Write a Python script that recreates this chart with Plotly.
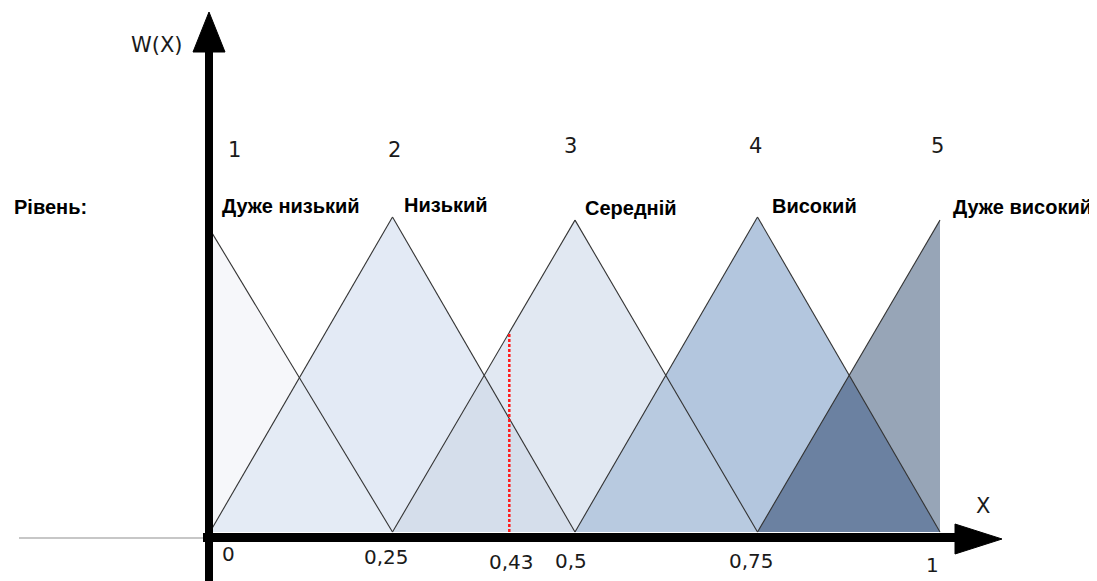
import plotly.graph_objects as go

# ---------------- data ----------------
term_names = ["Дуже низький", "Низький", "Середній", "Високий", "Дуже високий"]
term_numbers = ["1", "2", "3", "4", "5"]
tri_left = [0.0, 0.0, 0.25, 0.5, 0.75]
tri_center = [0.0, 0.25, 0.5, 0.75, 1.0]
tri_right = [0.25, 0.5, 0.75, 1.0, 1.0]
tri_peak = [0.96, 1.0, 0.99, 1.0, 0.99]
tri_colors = ["#f6f7fa", "#e3eaf5", "#e1e8f2", "#b3c6de", "#97a5b7"]
overlap_colors = ["#e4ebf5", "#d5deeb", "#b8cae0", "#6b81a1"]

tick_values = [0.0, 0.25, 0.41, 0.5, 0.75, 1.0]
tick_labels = ["0", "0,25", "0,43", "0,5", "0,75", "1"]
marker_x = 0.41          # red dotted line (labelled 0,43)
marker_term = 2          # index of the term it rises to (Середній)

# ---------------- geometry helpers ----------------
W, H = 1097, 581
PAGE_MARGIN = 8          # default body margin of the html page
X0_PX, X_SCALE = 210, 730
Y0_PX, Y_SCALE = 532, 315


def dx(px):
    return (px - X0_PX) / X_SCALE


def dy(py):
    return (Y0_PX - py) / Y_SCALE


def tent(i, x):
    l, c, r, p = tri_left[i], tri_center[i], tri_right[i], tri_peak[i]
    if x < l or x > r:
        return 0.0
    if x <= c:
        return p if c == l else p * (x - l) / (c - l)
    return p if r == c else p * (r - x) / (r - c)


fig = go.Figure()

# triangle fills
for i in range(5):
    fig.add_trace(go.Scatter(
        x=[tri_left[i], tri_center[i], tri_right[i], tri_left[i]],
        y=[0, tri_peak[i], 0, 0],
        mode="lines", fill="toself", fillcolor=tri_colors[i],
        line=dict(width=0), hoverinfo="skip", showlegend=False))

# overlaps of neighbouring terms
for i in range(4):
    c1, r1, p1 = tri_center[i], tri_right[i], tri_peak[i]
    l2, c2, p2 = tri_left[i + 1], tri_center[i + 1], tri_peak[i + 1]
    m1 = -p1 / (r1 - c1)
    m2 = p2 / (c2 - l2)
    xi = (m2 * l2 - m1 * r1) / (m2 - m1)
    yi = m2 * (xi - l2)
    fig.add_trace(go.Scatter(
        x=[l2, xi, r1, l2], y=[0, yi, 0, 0],
        mode="lines", fill="toself", fillcolor=overlap_colors[i],
        line=dict(width=0), hoverinfo="skip", showlegend=False))

# triangle outlines (slanted edges only)
for i in range(5):
    l, c, r, p = tri_left[i], tri_center[i], tri_right[i], tri_peak[i]
    if c > l:
        fig.add_trace(go.Scatter(x=[l, c], y=[0, p], mode="lines",
                                 line=dict(color="#333333", width=1.1),
                                 hoverinfo="skip", showlegend=False))
    if r > c:
        fig.add_trace(go.Scatter(x=[c, r], y=[p, 0], mode="lines",
                                 line=dict(color="#333333", width=1.1),
                                 hoverinfo="skip", showlegend=False))

# red dotted marker line
fig.add_trace(go.Scatter(
    x=[marker_x, marker_x], y=[0, tent(marker_term, marker_x)],
    mode="lines", line=dict(color="#ff1a1a", width=2.5, dash="3px,2px"),
    hoverinfo="skip", showlegend=False))

# ---------------- axes drawn as arrows ----------------
shapes = []
shapes.append(dict(type="line", xref="x", yref="y", x0=dx(19), x1=dx(203),
                   y0=dy(538), y1=dy(538), line=dict(color="#b5b5b5", width=1.5)))
shapes.append(dict(type="line", xref="x", yref="y", x0=dx(209), x1=dx(209),
                   y0=dy(590), y1=dy(48), line=dict(color="black", width=8)))
shapes.append(dict(type="path", xref="x", yref="y",
                   path=f"M {dx(193)},{dy(52)} L {dx(209)},{dy(12)} L {dx(225)},{dy(52)} Z",
                   fillcolor="black", line=dict(color="black", width=1)))
shapes.append(dict(type="line", xref="x", yref="y", x0=dx(203), x1=dx(960),
                   y0=dy(537.5), y1=dy(537.5), line=dict(color="black", width=9)))
shapes.append(dict(type="path", xref="x", yref="y",
                   path=f"M {dx(955)},{dy(524)} L {dx(1002)},{dy(539)} L {dx(955)},{dy(554)} Z",
                   fillcolor="black", line=dict(color="black", width=1)))

# ---------------- text ----------------
num_font = dict(family="DejaVu Sans, sans-serif", size=21, color="#1a1a1a")
bold_font = dict(family="Liberation Sans, Arial, sans-serif", size=20, color="#000000")

ann = []
num_shift_x = [24, 2, -5, -2, -3]
num_y_px = [150, 150, 146, 146, 146]
name_shift_x = [10, 9, 8, 12, 11]
name_y_px = [206, 205, 208, 206, 207]
for i in range(5):
    ann.append(dict(x=tri_center[i], y=dy(num_y_px[i]), xref="x", yref="y",
                    text=term_numbers[i], showarrow=False, font=num_font,
                    xanchor="center", yanchor="middle", xshift=num_shift_x[i]))
    ann.append(dict(x=tri_center[i], y=dy(name_y_px[i]), xref="x", yref="y",
                    text="<b>" + term_names[i] + "</b>", showarrow=False, font=bold_font,
                    xanchor="left", yanchor="middle", xshift=name_shift_x[i]))

ann.append(dict(x=dx(12), y=dy(207), xref="x", yref="y", text="<b>Рівень:</b>",
                showarrow=False, font=bold_font, xanchor="left", yanchor="middle"))
ann.append(dict(x=dx(157), y=dy(45), xref="x", yref="y", text="W(X)",
                showarrow=False, font=num_font, xanchor="center", yanchor="middle"))
ann.append(dict(x=dx(983), y=dy(506), xref="x", yref="y", text="X",
                showarrow=False, font=num_font, xanchor="center", yanchor="middle"))

tick_shift_x = [18, -6, 2, -4, -6, -8]
tick_y_px = [554, 557, 562, 561, 561, 565]
tick_font = dict(family="DejaVu Sans, sans-serif", size=20, color="#1a1a1a")
for v, lab, sx, ty in zip(tick_values, tick_labels, tick_shift_x, tick_y_px):
    ann.append(dict(x=v, y=dy(ty), xref="x", yref="y", text=lab, showarrow=False,
                    font=tick_font, xanchor="center", yanchor="middle", xshift=sx))

fig.update_layout(
    width=W - PAGE_MARGIN, height=H - PAGE_MARGIN, autosize=False,
    margin=dict(l=0, r=0, t=0, b=0, pad=0),
    paper_bgcolor="white", plot_bgcolor="white",
    xaxis=dict(range=[dx(PAGE_MARGIN), dx(W)], visible=False, fixedrange=True),
    yaxis=dict(range=[dy(H), dy(PAGE_MARGIN)], visible=False, fixedrange=True),
    shapes=shapes, annotations=ann, showlegend=False,
)

fig.write_html("out.html")
